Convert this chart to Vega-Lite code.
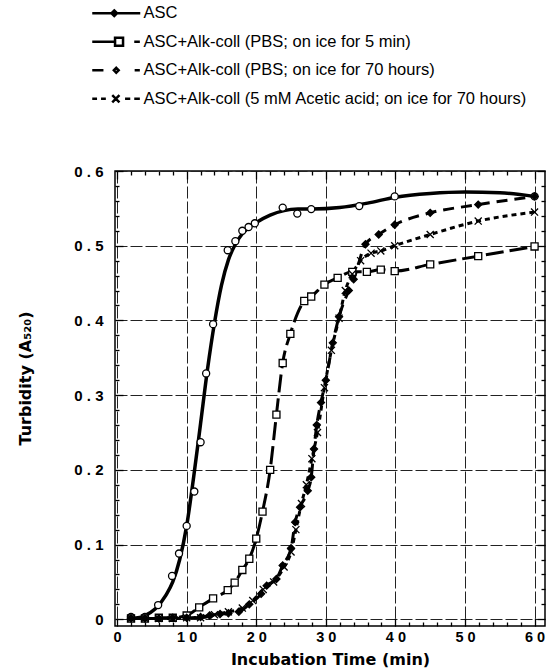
{
  "$schema": "https://vega.github.io/schema/vega-lite/v6.json",
  "width": 430,
  "height": 455,
  "autosize": {"type": "none"},
  "padding": {"left": 115, "top": 171, "right": 15, "bottom": 46},
  "background": "white",
  "config": {
    "view": {"stroke": "black", "strokeWidth": 1.5},
    "font": "Liberation Sans"
  },
  "datasets": {
    "curve": [
      {"x": 1.5, "y": 0.001}, {"x": 3, "y": 0.002}, {"x": 4, "y": 0.005}, {"x": 5.5, "y": 0.014},
      {"x": 7, "y": 0.032}, {"x": 8, "y": 0.05}, {"x": 9, "y": 0.08}, {"x": 10, "y": 0.125},
      {"x": 11, "y": 0.19}, {"x": 12, "y": 0.262}, {"x": 13, "y": 0.335}, {"x": 14, "y": 0.397},
      {"x": 15, "y": 0.447}, {"x": 16, "y": 0.481}, {"x": 17, "y": 0.502}, {"x": 18, "y": 0.516},
      {"x": 20, "y": 0.531}, {"x": 22, "y": 0.541}, {"x": 24, "y": 0.547}, {"x": 26, "y": 0.549},
      {"x": 28, "y": 0.549}, {"x": 32, "y": 0.551}, {"x": 36, "y": 0.557}, {"x": 40, "y": 0.565},
      {"x": 45, "y": 0.57}, {"x": 50, "y": 0.572}, {"x": 55, "y": 0.571}, {"x": 60, "y": 0.566}
    ],
    "pts": [
      {"s": "ASC", "x": 2, "y": 0.003}, {"s": "ASC", "x": 4, "y": 0.003}, {"s": "ASC", "x": 5.9, "y": 0.019},
      {"s": "ASC", "x": 7.9, "y": 0.058}, {"s": "ASC", "x": 8.9, "y": 0.088}, {"s": "ASC", "x": 10, "y": 0.125},
      {"s": "ASC", "x": 11.1, "y": 0.171}, {"s": "ASC", "x": 12, "y": 0.237}, {"s": "ASC", "x": 12.8, "y": 0.329},
      {"s": "ASC", "x": 13.8, "y": 0.395}, {"s": "ASC", "x": 15.9, "y": 0.494}, {"s": "ASC", "x": 17, "y": 0.506},
      {"s": "ASC", "x": 18, "y": 0.52}, {"s": "ASC", "x": 18.9, "y": 0.525}, {"s": "ASC", "x": 19.8, "y": 0.53},
      {"s": "ASC", "x": 23.8, "y": 0.551}, {"s": "ASC", "x": 25.9, "y": 0.543}, {"s": "ASC", "x": 27.9, "y": 0.549},
      {"s": "ASC", "x": 34.8, "y": 0.553}, {"s": "ASC", "x": 39.9, "y": 0.566}, {"s": "ASC", "x": 60, "y": 0.566},

      {"s": "ASC+Alk-coll (PBS; on ice for 5 min)", "x": 2, "y": 0.001},
      {"s": "ASC+Alk-coll (PBS; on ice for 5 min)", "x": 4, "y": 0.001},
      {"s": "ASC+Alk-coll (PBS; on ice for 5 min)", "x": 6, "y": 0.002},
      {"s": "ASC+Alk-coll (PBS; on ice for 5 min)", "x": 8, "y": 0.002},
      {"s": "ASC+Alk-coll (PBS; on ice for 5 min)", "x": 10, "y": 0.005},
      {"s": "ASC+Alk-coll (PBS; on ice for 5 min)", "x": 11.8, "y": 0.016},
      {"s": "ASC+Alk-coll (PBS; on ice for 5 min)", "x": 13.8, "y": 0.028},
      {"s": "ASC+Alk-coll (PBS; on ice for 5 min)", "x": 15.9, "y": 0.039},
      {"s": "ASC+Alk-coll (PBS; on ice for 5 min)", "x": 16.9, "y": 0.049},
      {"s": "ASC+Alk-coll (PBS; on ice for 5 min)", "x": 18, "y": 0.066},
      {"s": "ASC+Alk-coll (PBS; on ice for 5 min)", "x": 19, "y": 0.081},
      {"s": "ASC+Alk-coll (PBS; on ice for 5 min)", "x": 20, "y": 0.108},
      {"s": "ASC+Alk-coll (PBS; on ice for 5 min)", "x": 20.9, "y": 0.144},
      {"s": "ASC+Alk-coll (PBS; on ice for 5 min)", "x": 22, "y": 0.2},
      {"s": "ASC+Alk-coll (PBS; on ice for 5 min)", "x": 22.9, "y": 0.274},
      {"s": "ASC+Alk-coll (PBS; on ice for 5 min)", "x": 23.8, "y": 0.343},
      {"s": "ASC+Alk-coll (PBS; on ice for 5 min)", "x": 24.9, "y": 0.382},
      {"s": "ASC+Alk-coll (PBS; on ice for 5 min)", "x": 26.9, "y": 0.426},
      {"s": "ASC+Alk-coll (PBS; on ice for 5 min)", "x": 27.9, "y": 0.432},
      {"s": "ASC+Alk-coll (PBS; on ice for 5 min)", "x": 29.8, "y": 0.448},
      {"s": "ASC+Alk-coll (PBS; on ice for 5 min)", "x": 31.7, "y": 0.457},
      {"s": "ASC+Alk-coll (PBS; on ice for 5 min)", "x": 33.8, "y": 0.465},
      {"s": "ASC+Alk-coll (PBS; on ice for 5 min)", "x": 35.9, "y": 0.465},
      {"s": "ASC+Alk-coll (PBS; on ice for 5 min)", "x": 37.9, "y": 0.468},
      {"s": "ASC+Alk-coll (PBS; on ice for 5 min)", "x": 39.9, "y": 0.466},
      {"s": "ASC+Alk-coll (PBS; on ice for 5 min)", "x": 45, "y": 0.475},
      {"s": "ASC+Alk-coll (PBS; on ice for 5 min)", "x": 51.9, "y": 0.486},
      {"s": "ASC+Alk-coll (PBS; on ice for 5 min)", "x": 60, "y": 0.499},

      {"s": "ASC+Alk-coll (PBS; on ice for 70 hours)", "x": 2, "y": 0.001},
      {"s": "ASC+Alk-coll (PBS; on ice for 70 hours)", "x": 4, "y": 0.001},
      {"s": "ASC+Alk-coll (PBS; on ice for 70 hours)", "x": 6, "y": 0.001},
      {"s": "ASC+Alk-coll (PBS; on ice for 70 hours)", "x": 8, "y": 0.002},
      {"s": "ASC+Alk-coll (PBS; on ice for 70 hours)", "x": 10, "y": 0.002},
      {"s": "ASC+Alk-coll (PBS; on ice for 70 hours)", "x": 12, "y": 0.003},
      {"s": "ASC+Alk-coll (PBS; on ice for 70 hours)", "x": 13.3, "y": 0.005},
      {"s": "ASC+Alk-coll (PBS; on ice for 70 hours)", "x": 14.8, "y": 0.007},
      {"s": "ASC+Alk-coll (PBS; on ice for 70 hours)", "x": 16, "y": 0.008},
      {"s": "ASC+Alk-coll (PBS; on ice for 70 hours)", "x": 17.5, "y": 0.01},
      {"s": "ASC+Alk-coll (PBS; on ice for 70 hours)", "x": 19, "y": 0.02},
      {"s": "ASC+Alk-coll (PBS; on ice for 70 hours)", "x": 20.7, "y": 0.034},
      {"s": "ASC+Alk-coll (PBS; on ice for 70 hours)", "x": 21.5, "y": 0.045},
      {"s": "ASC+Alk-coll (PBS; on ice for 70 hours)", "x": 22.9, "y": 0.054},
      {"s": "ASC+Alk-coll (PBS; on ice for 70 hours)", "x": 23.8, "y": 0.072},
      {"s": "ASC+Alk-coll (PBS; on ice for 70 hours)", "x": 25, "y": 0.095},
      {"s": "ASC+Alk-coll (PBS; on ice for 70 hours)", "x": 25.6, "y": 0.13},
      {"s": "ASC+Alk-coll (PBS; on ice for 70 hours)", "x": 26.3, "y": 0.15},
      {"s": "ASC+Alk-coll (PBS; on ice for 70 hours)", "x": 27.4, "y": 0.172},
      {"s": "ASC+Alk-coll (PBS; on ice for 70 hours)", "x": 27.9, "y": 0.19},
      {"s": "ASC+Alk-coll (PBS; on ice for 70 hours)", "x": 28.3, "y": 0.228},
      {"s": "ASC+Alk-coll (PBS; on ice for 70 hours)", "x": 28.7, "y": 0.26},
      {"s": "ASC+Alk-coll (PBS; on ice for 70 hours)", "x": 29.3, "y": 0.29},
      {"s": "ASC+Alk-coll (PBS; on ice for 70 hours)", "x": 30, "y": 0.32},
      {"s": "ASC+Alk-coll (PBS; on ice for 70 hours)", "x": 31, "y": 0.37},
      {"s": "ASC+Alk-coll (PBS; on ice for 70 hours)", "x": 31.9, "y": 0.405},
      {"s": "ASC+Alk-coll (PBS; on ice for 70 hours)", "x": 33.3, "y": 0.44},
      {"s": "ASC+Alk-coll (PBS; on ice for 70 hours)", "x": 34, "y": 0.455},
      {"s": "ASC+Alk-coll (PBS; on ice for 70 hours)", "x": 35.7, "y": 0.502},
      {"s": "ASC+Alk-coll (PBS; on ice for 70 hours)", "x": 37.6, "y": 0.515},
      {"s": "ASC+Alk-coll (PBS; on ice for 70 hours)", "x": 39.9, "y": 0.528},
      {"s": "ASC+Alk-coll (PBS; on ice for 70 hours)", "x": 45, "y": 0.544},
      {"s": "ASC+Alk-coll (PBS; on ice for 70 hours)", "x": 51.9, "y": 0.555},
      {"s": "ASC+Alk-coll (PBS; on ice for 70 hours)", "x": 60, "y": 0.566},

      {"s": "ASC+Alk-coll (5 mM Acetic acid; on ice for 70 hours)", "x": 2, "y": 0.001},
      {"s": "ASC+Alk-coll (5 mM Acetic acid; on ice for 70 hours)", "x": 4, "y": 0.001},
      {"s": "ASC+Alk-coll (5 mM Acetic acid; on ice for 70 hours)", "x": 6, "y": 0.001},
      {"s": "ASC+Alk-coll (5 mM Acetic acid; on ice for 70 hours)", "x": 8, "y": 0.001},
      {"s": "ASC+Alk-coll (5 mM Acetic acid; on ice for 70 hours)", "x": 10, "y": 0.002},
      {"s": "ASC+Alk-coll (5 mM Acetic acid; on ice for 70 hours)", "x": 12, "y": 0.002},
      {"s": "ASC+Alk-coll (5 mM Acetic acid; on ice for 70 hours)", "x": 14, "y": 0.006},
      {"s": "ASC+Alk-coll (5 mM Acetic acid; on ice for 70 hours)", "x": 16, "y": 0.01},
      {"s": "ASC+Alk-coll (5 mM Acetic acid; on ice for 70 hours)", "x": 18, "y": 0.015},
      {"s": "ASC+Alk-coll (5 mM Acetic acid; on ice for 70 hours)", "x": 19.5, "y": 0.025},
      {"s": "ASC+Alk-coll (5 mM Acetic acid; on ice for 70 hours)", "x": 21, "y": 0.04},
      {"s": "ASC+Alk-coll (5 mM Acetic acid; on ice for 70 hours)", "x": 22.5, "y": 0.05},
      {"s": "ASC+Alk-coll (5 mM Acetic acid; on ice for 70 hours)", "x": 24, "y": 0.07},
      {"s": "ASC+Alk-coll (5 mM Acetic acid; on ice for 70 hours)", "x": 25, "y": 0.09},
      {"s": "ASC+Alk-coll (5 mM Acetic acid; on ice for 70 hours)", "x": 25.7, "y": 0.12},
      {"s": "ASC+Alk-coll (5 mM Acetic acid; on ice for 70 hours)", "x": 26.5, "y": 0.155},
      {"s": "ASC+Alk-coll (5 mM Acetic acid; on ice for 70 hours)", "x": 27.2, "y": 0.18},
      {"s": "ASC+Alk-coll (5 mM Acetic acid; on ice for 70 hours)", "x": 28, "y": 0.215},
      {"s": "ASC+Alk-coll (5 mM Acetic acid; on ice for 70 hours)", "x": 28.8, "y": 0.25},
      {"s": "ASC+Alk-coll (5 mM Acetic acid; on ice for 70 hours)", "x": 29.8, "y": 0.31},
      {"s": "ASC+Alk-coll (5 mM Acetic acid; on ice for 70 hours)", "x": 30.8, "y": 0.36},
      {"s": "ASC+Alk-coll (5 mM Acetic acid; on ice for 70 hours)", "x": 31.9, "y": 0.403},
      {"s": "ASC+Alk-coll (5 mM Acetic acid; on ice for 70 hours)", "x": 32.8, "y": 0.44},
      {"s": "ASC+Alk-coll (5 mM Acetic acid; on ice for 70 hours)", "x": 33.8, "y": 0.462},
      {"s": "ASC+Alk-coll (5 mM Acetic acid; on ice for 70 hours)", "x": 35, "y": 0.48},
      {"s": "ASC+Alk-coll (5 mM Acetic acid; on ice for 70 hours)", "x": 36.5, "y": 0.49},
      {"s": "ASC+Alk-coll (5 mM Acetic acid; on ice for 70 hours)", "x": 37.9, "y": 0.493},
      {"s": "ASC+Alk-coll (5 mM Acetic acid; on ice for 70 hours)", "x": 39.9, "y": 0.5},
      {"s": "ASC+Alk-coll (5 mM Acetic acid; on ice for 70 hours)", "x": 45, "y": 0.515},
      {"s": "ASC+Alk-coll (5 mM Acetic acid; on ice for 70 hours)", "x": 51.9, "y": 0.533},
      {"s": "ASC+Alk-coll (5 mM Acetic acid; on ice for 70 hours)", "x": 60, "y": 0.545}
    ]
  },
  "layer": [
    {
      "data": {"name": "curve"},
      "mark": {"type": "line", "interpolate": "monotone", "stroke": "black", "strokeWidth": 3.5},
      "encoding": {
        "x": {
          "field": "x", "type": "quantitative",
          "scale": {"domain": [-0.3, 61.5], "nice": false, "zero": false},
          "axis": {
            "orient": "bottom",
            "values": [0,2,4,6,8,10,12,14,16,18,20,22,24,26,28,30,32,34,36,38,40,42,44,46,48,50,52,54,56,58,60],
            "title": "Incubation Time (min)",
            "titleFont": "DejaVu Sans", "titleFontSize": 16, "titleFontWeight": "bold", "titleColor": "black",
            "titleBaseline": "middle", "titleY": 33,
            "domain": false,
            "grid": true, "gridColor": "#222", "gridWidth": 1, "gridDash": [12, 3],
            "gridOpacity": {"condition": {"test": "datum.value % 10 === 0", "value": 1}, "value": 0},
            "tickColor": "black", "tickWidth": 1.3,
            "tickSize": {"condition": {"test": "datum.value % 10 === 0", "value": -8}, "value": -4},
            "labelExpr": "datum.value % 10 === 0 ? join(split(datum.label, ''), ' ') : ''",
            "labelFont": "Liberation Sans", "labelFontSize": 14.5, "labelFontWeight": "bold", "labelColor": "black",
            "labelPadding": 19, "labelBaseline": "middle", "labelFlush": false, "labelOverlap": false
          }
        },
        "y": {
          "field": "y", "type": "quantitative",
          "scale": {"domain": [-0.009, 0.6], "nice": false, "zero": false},
          "axis": {
            "orient": "left",
            "values": [0,0.02,0.04,0.06,0.08,0.1,0.12,0.14,0.16,0.18,0.2,0.22,0.24,0.26,0.28,0.3,0.32,0.34,0.36,0.38,0.4,0.42,0.44,0.46,0.48,0.5,0.52,0.54,0.56,0.58,0.6],
            "title": "Turbidity (A₅₂₀)",
            "titleFont": "DejaVu Sans", "titleFontSize": 16, "titleFontWeight": "bold", "titleColor": "black",
            "titleX": -90, "titleY": 207, "titleBaseline": "middle", "titleAngle": -90,
            "domain": false,
            "grid": true, "gridColor": "#222", "gridWidth": 1, "gridDash": [12, 3],
            "gridOpacity": {"condition": {"test": "abs(datum.value*10 - round(datum.value*10)) < 0.001", "value": 1}, "value": 0},
            "tickColor": "black", "tickWidth": 1.3,
            "tickSize": {"condition": {"test": "abs(datum.value*10 - round(datum.value*10)) < 0.001", "value": -8}, "value": -4},
            "labelExpr": "abs(datum.value*10 - round(datum.value*10)) < 0.001 ? (datum.value === 0 ? '0' : join(split(format(datum.value, '.1f'), ''), ' ')) : ''",
            "labelFont": "Liberation Sans", "labelFontSize": 15, "labelFontWeight": "bold", "labelColor": "black",
            "labelPadding": 20, "labelFlush": false, "labelOverlap": false
          }
        }
      }
    },
    {
      "data": {"name": "pts"},
      "transform": [{"filter": "datum.s !== 'ASC'"}],
      "mark": {"type": "line", "interpolate": "monotone", "stroke": "black", "strokeWidth": 3},
      "encoding": {
        "x": {
          "field": "x", "type": "quantitative",
          "axis": {
            "orient": "top",
            "values": [0,2,4,6,8,10,12,14,16,18,20,22,24,26,28,30,32,34,36,38,40,42,44,46,48,50,52,54,56,58,60],
            "title": null, "labels": false, "domain": false, "grid": false,
            "tickColor": "black", "tickWidth": 1.3,
            "tickSize": {"condition": {"test": "datum.value % 10 === 0", "value": -8}, "value": -4}
          }
        },
        "y": {
          "field": "y", "type": "quantitative",
          "axis": {
            "orient": "right",
            "values": [0,0.02,0.04,0.06,0.08,0.1,0.12,0.14,0.16,0.18,0.2,0.22,0.24,0.26,0.28,0.3,0.32,0.34,0.36,0.38,0.4,0.42,0.44,0.46,0.48,0.5,0.52,0.54,0.56,0.58,0.6],
            "title": null, "labels": false, "domain": false, "grid": false,
            "tickColor": "black", "tickWidth": 1.3,
            "tickSize": {"condition": {"test": "abs(datum.value*10 - round(datum.value*10)) < 0.001", "value": -8}, "value": -4}
          }
        },
        "strokeDash": {
          "field": "s", "type": "nominal",
          "scale": {
            "domain": ["ASC+Alk-coll (PBS; on ice for 5 min)", "ASC+Alk-coll (PBS; on ice for 70 hours)", "ASC+Alk-coll (5 mM Acetic acid; on ice for 70 hours)"],
            "range": [[18, 6], [11, 7], [5, 4]]
          },
          "legend": null
        }
      }
    },
    {
      "data": {"name": "pts"},
      "mark": {"type": "point", "stroke": "black", "strokeWidth": 1.3, "size": 50, "opacity": 1},
      "encoding": {
        "x": {"field": "x", "type": "quantitative", "axis": null},
        "y": {"field": "y", "type": "quantitative", "axis": null},
        "shape": {
          "field": "s", "type": "nominal",
          "scale": {
            "domain": ["ASC", "ASC+Alk-coll (PBS; on ice for 5 min)", "ASC+Alk-coll (PBS; on ice for 70 hours)", "ASC+Alk-coll (5 mM Acetic acid; on ice for 70 hours)"],
            "range": ["circle", "square", "diamond", "M-1,-1L1,1M-1,1L1,-1"]
          },
          "legend": null
        },
        "fill": {
          "field": "s", "type": "nominal",
          "scale": {
            "domain": ["ASC", "ASC+Alk-coll (PBS; on ice for 5 min)", "ASC+Alk-coll (PBS; on ice for 70 hours)", "ASC+Alk-coll (5 mM Acetic acid; on ice for 70 hours)"],
            "range": ["white", "white", "black", "transparent"]
          },
          "legend": null
        }
      }
    },
    {
      "data": {"name": "pts"},
      "mark": {"type": "point", "opacity": 0, "color": "black", "strokeWidth": 2.5, "filled": false},
      "encoding": {
        "x": {"field": "x", "type": "quantitative", "axis": null},
        "y": {"field": "y", "type": "quantitative", "axis": null},
        "shape": {
          "field": "s", "type": "nominal",
          "scale": {
            "domain": ["ASC", "ASC+Alk-coll (PBS; on ice for 5 min)", "ASC+Alk-coll (PBS; on ice for 70 hours)", "ASC+Alk-coll (5 mM Acetic acid; on ice for 70 hours)"],
            "range": [
              "M-6,0L6,0M-0.5,-0.7L0.2,0L-0.5,0.7L-1.2,0Z",
              "M-6,0L-0.3,0M-0.3,-1L1.7,-1L1.7,1L-0.3,1Z M4.5,0L5.9,0",
              "M-6,0L-3.2,0M0,-0.6L0.6,0L0,0.6L-0.6,0Z M4.6,0L5.9,0",
              "M-6,0L-4.8,0M-3.8,0L-2.6,0M-1,-0.9L0.8,0.9M-1,0.9L0.8,-0.9M2.2,0L3.5,0M4.5,0L5.9,0"
            ]
          },
          "legend": {
            "orient": "none", "legendX": -23, "legendY": -166,
            "title": null, "symbolSize": 64, "symbolStrokeColor": "black", "symbolStrokeWidth": 2.5,
            "symbolFillColor": "transparent", "symbolOpacity": 1, "symbolOffset": 16,
            "labelFont": "Liberation Sans", "labelFontSize": 16.5, "labelColor": "black", "labelOffset": 19,
            "labelLimit": 0, "rowPadding": 10.5, "padding": 0
          }
        }
      }
    }
  ],
  "resolve": {
    "scale": {"shape": "independent", "fill": "independent"},
    "axis": {"x": "independent", "y": "independent"}
  }
}
